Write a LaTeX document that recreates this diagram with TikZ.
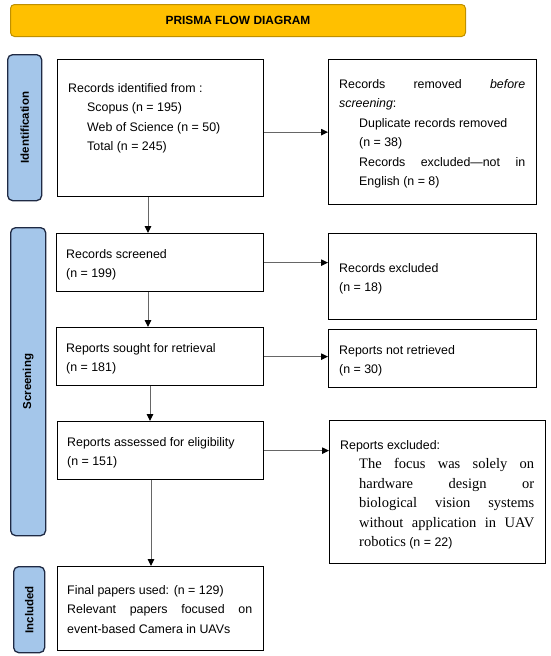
\documentclass[tikz,border=0pt]{standalone}
\usepackage{fontspec}
\setmainfont{Liberation Sans}
\newfontfamily\seriffont{Liberation Serif}
\usetikzlibrary{arrows.meta,calc}
\definecolor{titlefill}{HTML}{FFC000}
\definecolor{titledraw}{HTML}{BF9000}
\definecolor{sidefill}{HTML}{A4C6EA}
\definecolor{sidedraw}{HTML}{1F2A44}
\definecolor{linkgray}{HTML}{666666}
\tikzset{
  box/.style={draw=black, line width=1.3pt, rectangle, anchor=north west, inner sep=0pt},
  sidebox/.style={draw=sidedraw, fill=sidefill, line width=1.3pt, rounded corners=5pt, anchor=north west, inner sep=0pt},
  sidetext/.style={rotate=90, font=\bfseries\fontsize{11.5}{13}\selectfont, text=black},
  txt/.style={anchor=north west, inner sep=0pt, font=\fontsize{12.4}{19.5}\selectfont},
  link/.style={draw=linkgray, line width=1pt, -{Triangle[color=black,length=7pt,width=6.5pt]}},
}
\begin{document}
\begin{tikzpicture}[x=1pt,y=-1pt]
\useasboundingbox (0,0) rectangle (550,656);
% title
\node[draw=titledraw, fill=titlefill, line width=1pt, rounded corners=4pt, anchor=north west,
      minimum width=455pt, minimum height=32pt, inner sep=0pt,
      font=\bfseries\fontsize{11.9}{14}\selectfont] (title) at (10,4) {PRISMA FLOW DIAGRAM};
% side labels
\node[sidebox, minimum width=34pt, minimum height=146pt] (s1) at (7,54) {};
\node[sidetext] (s1t) at (s1.center) {Identification};
\node[sidebox, minimum width=35pt, minimum height=308pt] (s2) at (10,227) {};
\node[sidetext] (s2t) at (s2.center) {Screening};
\node[sidebox, minimum width=31pt, minimum height=86pt] (s3) at (13,566) {};
\node[sidetext] (s3t) at (s3.center) {Included};
% boxes
\node[box, minimum width=206pt, minimum height=137pt] (b1) at (57,59) {};
\node[box, minimum width=208pt, minimum height=145pt] (b2) at (328,59) {};
\node[box, minimum width=207pt, minimum height=58pt] (b3) at (56,233) {};
\node[box, minimum width=208pt, minimum height=86pt] (b4) at (328,233) {};
\node[box, minimum width=207pt, minimum height=58pt] (b5) at (56,327) {};
\node[box, minimum width=208pt, minimum height=58pt] (b6) at (328,329) {};
\node[box, minimum width=206pt, minimum height=58pt] (b7) at (57,421) {};
\node[box, minimum width=216pt, minimum height=143pt] (b8) at (329,420) {};
\node[box, minimum width=206pt, minimum height=84pt] (b9) at (57,566) {};
% texts
\node[txt, align=left] (t1) at (68,83) {Records identified from :\\\hspace*{19pt}Scopus (n = 195)\\\hspace*{19pt}Web of Science (n = 50)\\\hspace*{19pt}Total (n = 245)};
\node[txt, text width=186pt, align=justify] (t2) at (339,79) {\hbadness=10000 Records removed \textit{before}\linebreak \textit{screening}:\par\leftskip=20pt Duplicate records removed\\(n = 38)\\Records excluded—not in\linebreak English (n = 8)\par};
\node[txt, align=left] (t3) at (66,249) {Records screened\\(n = 199)};
\node[txt, align=left] (t4) at (339,263) {Records excluded\\(n = 18)};
\node[txt, align=left] (t5) at (66,343) {Reports sought for retrieval\\(n = 181)};
\node[txt, align=left] (t6) at (339,345) {Reports not retrieved\\(n = 30)};
\node[txt, align=left] (t7) at (67,437) {Reports assessed for eligibility\\(n = 151)};
\node[txt, text width=194pt, align=justify] (t8) at (340,440) {\hbadness=10000 Reports excluded:\par\leftskip=19pt {\seriffont\fontsize{14.5}{19.6}\selectfont The focus was solely on\linebreak hardware design or\linebreak biological vision systems\linebreak without application in UAV\linebreak robotics} (n = 22)\par};
\node[txt, text width=185pt, align=justify] (t9) at (67,585) {\hbadness=10000 Final papers used: (n = 129)\\Relevant papers focused on\linebreak event-based Camera in UAVs\par};
% connectors
\coordinate (x1) at (148,0);
\coordinate (x2) at (150,0);
\coordinate (x3) at (151,0);
\draw[link] (b2.west -| b1.east) -- (b2.west);
\draw[link] (b3.east) -- (b3.east -| b4.west);
\draw[link] (b5.east) -- (b5.east -| b6.west);
\draw[link] (b7.east) -- (b7.east -| b8.west);
\draw[link] (b1.south -| x1) -- (b3.north -| x1);
\draw[link] (b3.south -| x1) -- (b5.north -| x1);
\draw[link] (b5.south -| x2) -- (b7.north -| x2);
\draw[link] (b7.south -| x3) -- (b9.north -| x3);
\end{tikzpicture}
\end{document}
